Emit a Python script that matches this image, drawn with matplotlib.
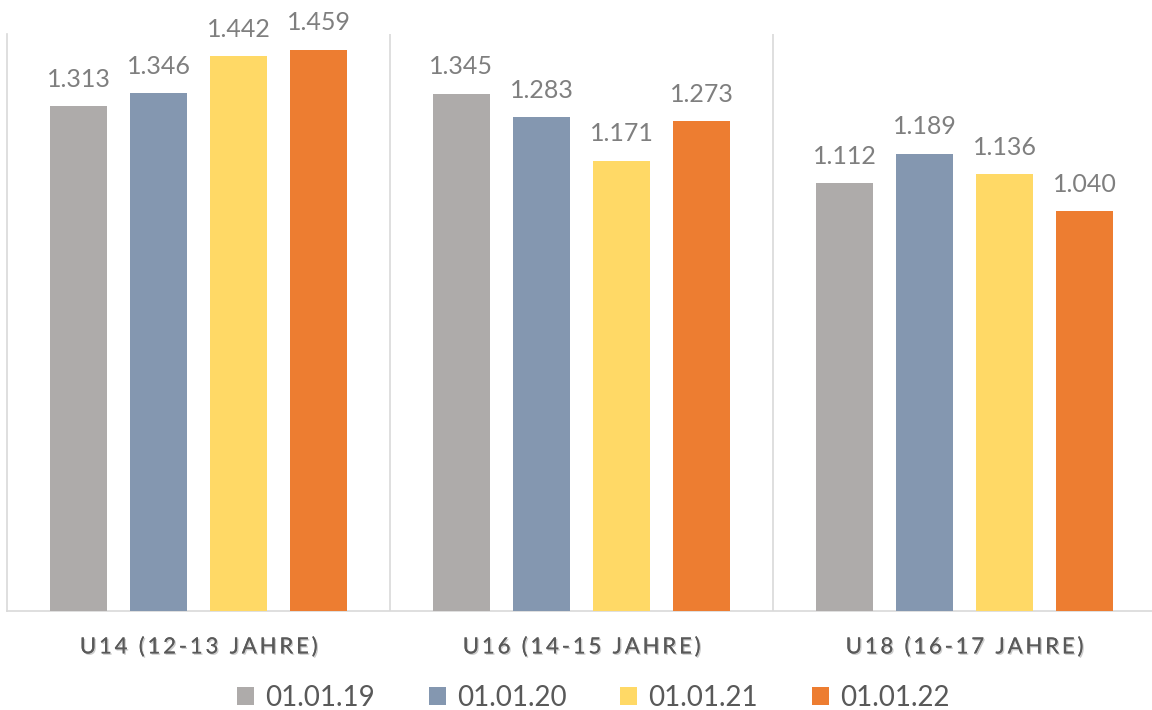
import numpy as np
import matplotlib.pyplot as plt
import matplotlib.patheffects as pe
from matplotlib.patches import Patch

plt.rcParams['font.family'] = ['Lato', 'DejaVu Sans']

# data
categories = ["U14 (12-13 JAHRE)", "U16 (14-15 JAHRE)", "U18 (16-17 JAHRE)"]
series_names = ["01.01.19", "01.01.20", "01.01.21", "01.01.22"]
values_19 = [1313, 1345, 1112]
values_20 = [1346, 1283, 1189]
values_21 = [1442, 1171, 1136]
values_22 = [1459, 1273, 1040]
colors = ["#AEABAA", "#8497B0", "#FFD966", "#ED7D31"]

series = [values_19, values_20, values_21, values_22]


def spaced(s):
    # wide letter spacing like the Excel axis labels
    return "\u2009".join(s)


fig = plt.figure(figsize=(11.52, 7.1), dpi=100)
ax = fig.add_axes([7 / 1152, 99 / 710, 1149 / 1152, 577 / 710])

x = np.arange(len(categories))
width = 0.151
pitch = 0.209
for i, vals in enumerate(series):
    offs = (i - 1.5) * pitch
    bars = ax.bar(x + offs, vals, width, color=colors[i], zorder=3)
    labels = [f"{v:,}".replace(",", ".") for v in vals]
    ax.bar_label(bars, labels=labels, padding=11, fontsize=18, color="#7F7F7F")

ax.set_xlim(-0.5, 2.5)
ax.set_ylim(0, 1500)
ax.set_yticks([])
ax.set_xticks(x)
ax.set_xticklabels([spaced(c) for c in categories], fontsize=16, color="#595959",
                   path_effects=[pe.withSimplePatchShadow(offset=(1, -1), shadow_rgbFace="#000000", alpha=0.2), pe.Normal()])
ax.tick_params(axis="x", length=0, pad=19)

for s in ["top", "right"]:
    ax.spines[s].set_visible(False)
ax.spines["left"].set_color("#D9D9D9")
ax.spines["bottom"].set_color("#D9D9D9")
ax.spines["left"].set_linewidth(1.2)
ax.spines["bottom"].set_linewidth(1.2)
for sep in [0.5, 1.5]:
    ax.axvline(sep, color="#D9D9D9", lw=1.2, zorder=1)

handles = [Patch(facecolor=c, edgecolor="none") for c in colors]
fig.legend(handles, series_names, loc="center", bbox_to_anchor=(0.515, 0.017), ncol=4,
           frameon=False, fontsize=20, labelcolor="#595959", handlelength=0.6, handleheight=0.6,
           handletextpad=0.4, columnspacing=1.95)

fig.savefig("out.png", dpi=100)
